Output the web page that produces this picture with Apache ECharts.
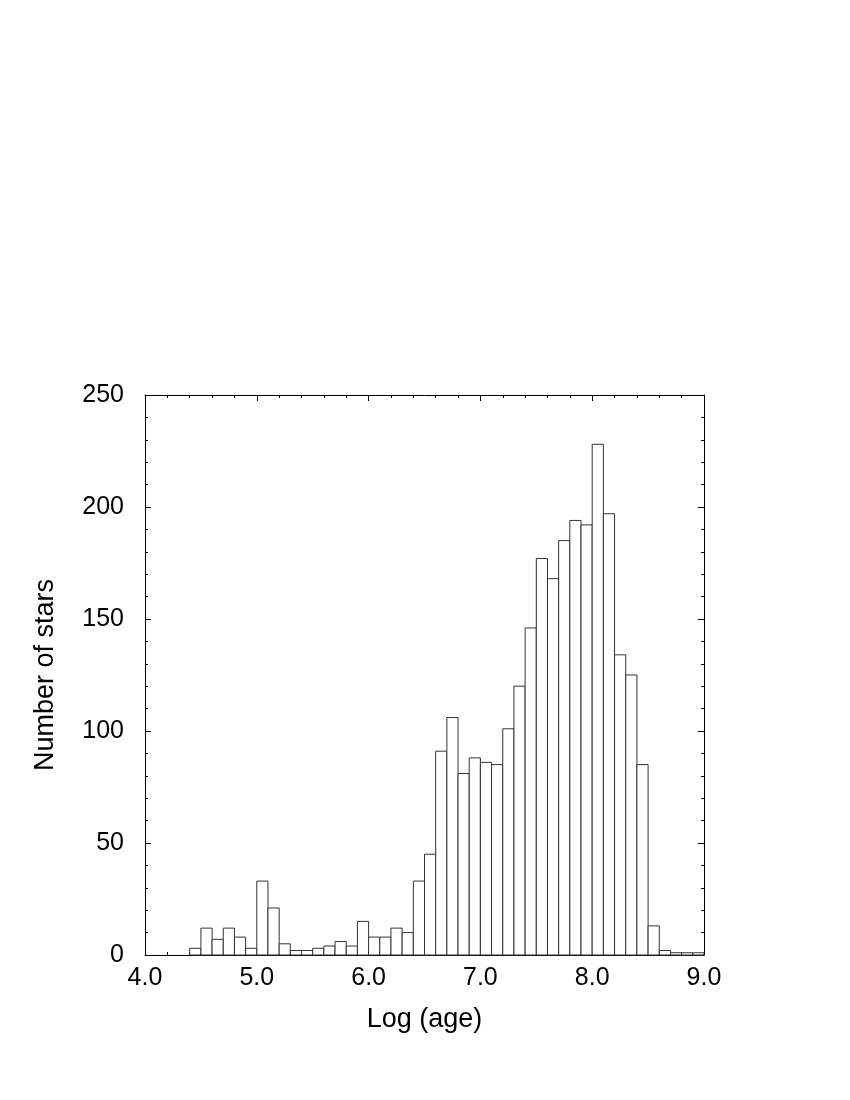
<!DOCTYPE html>
<html>
<head>
<meta charset="utf-8">
<script src="https://cdn.jsdelivr.net/npm/echarts@6/dist/echarts.min.js"></script>
<style>
  html, body { margin: 0; padding: 0; background: #fff; }
  #chart { width: 850px; height: 1100px; }
</style>
</head>
<body>
<div id="chart"></div>
<script>
// histogram bins: left edge of each bin (log age), width 0.1
const binStarts = [4.4, 4.5, 4.6, 4.7, 4.8, 4.9, 5.0, 5.1, 5.2, 5.3, 5.4, 5.5, 5.6, 5.7, 5.8, 5.9,
  6.0, 6.1, 6.2, 6.3, 6.4, 6.5, 6.6, 6.7, 6.8, 6.9, 7.0, 7.1, 7.2, 7.3, 7.4, 7.5, 7.6, 7.7, 7.8, 7.9,
  8.0, 8.1, 8.2, 8.3, 8.4, 8.5, 8.6, 8.7, 8.8, 8.9]
const counts = [3, 12, 7, 12, 8, 3, 33, 21, 5, 2, 2, 3, 4, 6, 4, 15,
  8, 8, 12, 10, 33, 45, 91, 106, 81, 88, 86, 85, 101, 120, 146, 177, 168, 185, 194, 192,
  228, 197, 134, 125, 85, 13, 2, 1, 1, 1]
const binWidth = 0.1
const xTicks = ['4.0', '5.0', '6.0', '7.0', '8.0', '9.0']
const yTicks = [0, 50, 100, 150, 200, 250]

const font = 'Liberation Sans, Arial, Helvetica, sans-serif'

let chart = echarts.init(document.getElementById('chart'), null, {renderer: 'canvas'})

// shared axis look (ticks inside, minor ticks, black frame)
function axisBase() {
  return {
    axisLine: {show: true, onZero: false, lineStyle: {color: '#000', width: 1}},
    axisTick: {show: true, inside: true, length: 6, lineStyle: {color: '#000'}},
    minorTick: {show: true, splitNumber: 5, length: 3, lineStyle: {color: '#000'}},
    splitLine: {show: false},
    minorSplitLine: {show: false}
  }
}

const data = binStarts.map((b, i) => [b, b + binWidth, counts[i]])

let option = {
  backgroundColor: '#fff',
  animation: false,
  grid: {left: 145, top: 395, width: 559, height: 560},
  xAxis: [
    Object.assign(axisBase(), {
      type: 'value', position: 'bottom', min: 4, max: 9, interval: 1,
      axisLabel: {
        show: true, margin: 11, color: '#000', fontSize: 25, fontFamily: font,
        formatter: v => xTicks[Math.round(v - 4)]
      },
      name: 'Log (age)', nameLocation: 'middle', nameGap: 51,
      nameTextStyle: {color: '#000', fontSize: 27, fontFamily: font}
    }),
    Object.assign(axisBase(), {
      type: 'value', position: 'top', min: 4, max: 9, interval: 1,
      axisLabel: {show: false}
    })
  ],
  yAxis: [
    Object.assign(axisBase(), {
      type: 'value', position: 'left', min: 0, max: 250, interval: 50,
      axisLabel: {
        show: true, margin: 21, color: '#000', fontSize: 25, fontFamily: font,
        formatter: v => String(yTicks[Math.round(v / 50)])
      },
      name: 'Number of stars', nameLocation: 'middle', nameGap: 86,
      nameTextStyle: {color: '#000', fontSize: 27, fontFamily: font}
    }),
    Object.assign(axisBase(), {
      type: 'value', position: 'right', min: 0, max: 250, interval: 50,
      axisLabel: {show: false}
    })
  ],
  series: [{
    type: 'custom',
    xAxisIndex: 0,
    yAxisIndex: 0,
    data: data,
    encode: {x: [0, 1], y: 2},
    renderItem: function(params, api) {
      let p0 = api.coord([api.value(0), 0])
      let p1 = api.coord([api.value(1), api.value(2)])
      return {
        type: 'rect',
        shape: {x: p0[0], y: p1[1], width: p1[0] - p0[0], height: p0[1] - p1[1]},
        style: {fill: '#fff', stroke: '#333', lineWidth: 1}
      }
    }
  }]
}

chart.setOption(option)
</script>
</body>
</html>
